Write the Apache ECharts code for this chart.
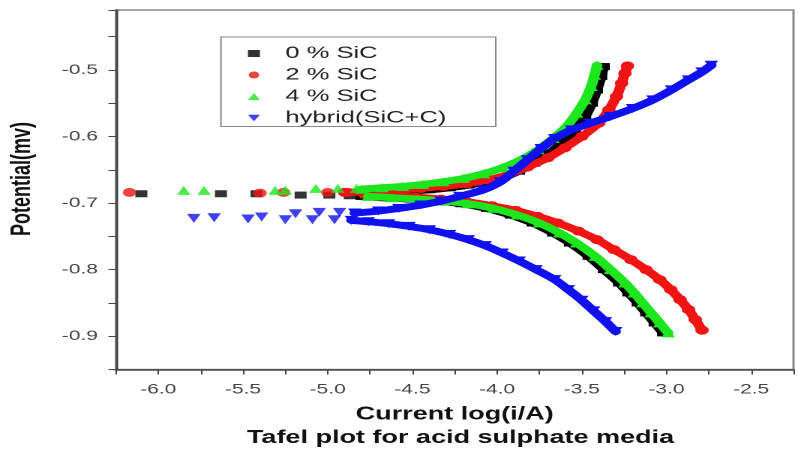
<!DOCTYPE html>
<html>
<head>
<meta charset="utf-8">
<script src="https://cdn.jsdelivr.net/npm/echarts@6/dist/echarts.min.js"></script>
<style>
html,body{margin:0;padding:0;background:#fff;overflow:hidden;}
#c{width:532px;height:450px;transform:scaleX(1.5);transform-origin:0 0;}
</style>
</head>
<body>
<div id="c"></div>
<script>
// Series names
const seriesNames = ['0 % SiC', '2 % SiC', '4 % SiC', 'hybrid(SiC+C)'];
const xTitle = 'Current log(i/A)';
const yTitle = 'Potential(mv)';
const chartTitle = 'Tafel plot for acid sulphate media';
const xTickLabels = [-6.0, -5.5, -5.0, -4.5, -4.0, -3.5, -3.0, -2.5];
const yTickLabels = [-0.9, -0.8, -0.7, -0.6, -0.5];

// [log(i/A), potential]
const black0Sparse = [[-6.10,-0.686],[-5.63,-0.686],[-5.42,-0.686],[-5.16,-0.688],[-4.99,-0.688],[-4.87,-0.689]];
const black0Anodic = [[-4.78,-0.684],[-4.65,-0.683],[-4.52,-0.682],[-4.40,-0.680],[-4.28,-0.677],[-4.17,-0.673],[-4.06,-0.668],[-3.96,-0.661],[-3.87,-0.652],[-3.78,-0.640],[-3.69,-0.625],[-3.61,-0.608],[-3.54,-0.590],[-3.48,-0.570],[-3.44,-0.550],[-3.41,-0.530],[-3.385,-0.510],[-3.37,-0.495]];
const black0Cathodic = [[-4.80,-0.690],[-4.66,-0.692],[-4.51,-0.694],[-4.36,-0.697],[-4.21,-0.701],[-4.06,-0.708],[-3.92,-0.718],[-3.79,-0.730],[-3.67,-0.745],[-3.57,-0.760],[-3.46,-0.780],[-3.37,-0.800],[-3.28,-0.820],[-3.225,-0.835],[-3.17,-0.850],[-3.12,-0.865],[-3.07,-0.880],[-3.02,-0.895]];

const red2Sparse = [[-6.17,-0.684],[-5.40,-0.685],[-5.26,-0.684],[-5.00,-0.684],[-4.88,-0.684]];
const red2Anodic = [[-4.90,-0.684],[-4.75,-0.683],[-4.60,-0.681],[-4.45,-0.678],[-4.32,-0.675],[-4.18,-0.671],[-4.05,-0.665],[-3.93,-0.657],[-3.82,-0.646],[-3.70,-0.632],[-3.60,-0.617],[-3.50,-0.600],[-3.40,-0.580],[-3.34,-0.560],[-3.295,-0.540],[-3.265,-0.520],[-3.245,-0.505],[-3.23,-0.494]];
const red2Cathodic = [[-4.78,-0.687],[-4.63,-0.689],[-4.48,-0.691],[-4.33,-0.694],[-4.18,-0.698],[-4.03,-0.704],[-3.89,-0.711],[-3.76,-0.720],[-3.64,-0.730],[-3.52,-0.742],[-3.41,-0.755],[-3.31,-0.770],[-3.21,-0.785],[-3.12,-0.800],[-3.04,-0.815],[-2.975,-0.830],[-2.92,-0.845],[-2.87,-0.860],[-2.83,-0.875],[-2.79,-0.891]];

const green4Sparse = [[-5.85,-0.681],[-5.73,-0.681],[-5.31,-0.681],[-5.25,-0.681],[-5.07,-0.678],[-4.94,-0.678],[-4.83,-0.678]];
const green4Anodic = [[-4.80,-0.679],[-4.68,-0.677],[-4.56,-0.675],[-4.44,-0.672],[-4.32,-0.668],[-4.20,-0.663],[-4.08,-0.656],[-3.97,-0.647],[-3.86,-0.635],[-3.76,-0.620],[-3.67,-0.603],[-3.59,-0.585],[-3.53,-0.565],[-3.48,-0.545],[-3.445,-0.525],[-3.425,-0.508],[-3.41,-0.493]];
const green4Cathodic = [[-4.76,-0.690],[-4.62,-0.692],[-4.47,-0.694],[-4.32,-0.697],[-4.17,-0.701],[-4.02,-0.708],[-3.88,-0.718],[-3.75,-0.730],[-3.63,-0.745],[-3.53,-0.760],[-3.42,-0.780],[-3.33,-0.800],[-3.245,-0.820],[-3.19,-0.835],[-3.14,-0.850],[-3.09,-0.865],[-3.04,-0.880],[-2.99,-0.895]];

const hybridSparse = [[-5.79,-0.723],[-5.67,-0.722],[-5.47,-0.724],[-5.39,-0.721],[-5.25,-0.725],[-5.19,-0.716],[-5.09,-0.725],[-5.05,-0.714],[-4.96,-0.725],[-4.93,-0.714]];
const hybridAnodic = [[-4.84,-0.715],[-4.70,-0.712],[-4.58,-0.708],[-4.45,-0.703],[-4.33,-0.697],[-4.22,-0.690],[-4.08,-0.680],[-3.98,-0.668],[-3.90,-0.652],[-3.82,-0.635],[-3.74,-0.618],[-3.66,-0.603],[-3.56,-0.590],[-3.45,-0.580],[-3.33,-0.570],[-3.20,-0.558],[-3.08,-0.545],[-2.97,-0.530],[-2.87,-0.515],[-2.79,-0.503],[-2.735,-0.493]];
const hybridCathodic = [[-4.86,-0.726],[-4.76,-0.728],[-4.64,-0.731],[-4.52,-0.735],[-4.40,-0.740],[-4.28,-0.747],[-4.17,-0.755],[-4.07,-0.764],[-3.97,-0.775],[-3.87,-0.787],[-3.77,-0.800],[-3.66,-0.815],[-3.58,-0.830],[-3.50,-0.846],[-3.43,-0.862],[-3.36,-0.878],[-3.30,-0.893]];

const colors = ['#000000', '#f01414', '#1ee61e', '#1010f0'];
const symbols = ['rect', 'circle', 'triangle', 'triangle'];
const symbolRot = [0, 0, 0, 180];
const symSizes = [[8,7], 9, 9, 9];

const groups = [
  [black0Sparse, black0Anodic, black0Cathodic],
  [red2Sparse, red2Anodic, red2Cathodic],
  [green4Sparse, green4Anodic, green4Cathodic],
  [hybridSparse, hybridAnodic, hybridCathodic]
];

const series = [];
groups.forEach((g, i) => {
  const common = {
    name: seriesNames[i],
    symbol: symbols[i],
    symbolRotate: symbolRot[i],
    symbolSize: symSizes[i],
    itemStyle: {color: colors[i]},
    z: 2 + i,
    animation: false
  };
  series.push(Object.assign({type: 'scatter', data: g[0]}, common));
  [g[1], g[2]].forEach(d => {
    series.push(Object.assign({
      type: 'line', data: d, smooth: 0.3, showSymbol: true,
      lineStyle: {color: colors[i], width: 7, cap: 'round', join: 'round'}
    }, common));
  });
});

const isMult = (v, step) => Math.abs(v / step - Math.round(v / step)) < 1e-6;
const font = '"Liberation Sans", Arial, sans-serif';

const chart = echarts.init(document.getElementById('c'), null, {renderer: 'canvas', devicePixelRatio: 2});
chart.setOption({
  animation: false,
  backgroundColor: '#ffffff',
  grid: {left: 77.3, top: 10, right: -13, bottom: 80.5, show: true, borderColor: '#888', borderWidth: 1.5, backgroundColor: 'transparent'},
  xAxis: {
    type: 'value', min: -6.25, max: -2.25, interval: 0.25,
    name: xTitle, nameLocation: 'middle', nameGap: 36,
    nameTextStyle: {fontFamily: font, fontWeight: 'bold', fontSize: 18, color: '#111'},
    axisLine: {show: true, onZero: false, lineStyle: {color: '#444', width: 1.5}},
    axisTick: {show: true, length: 5, lineStyle: {color: '#444', width: 1}},
    axisLabel: {fontFamily: font, fontSize: 14, color: '#444', margin: 13,
      formatter: v => (isMult(v, 0.5) && xTickLabels.some(t => Math.abs(t - v) < 1e-6)) ? v.toFixed(1) : ''},
    splitLine: {show: false}
  },
  yAxis: {
    type: 'value', min: -0.95, max: -0.41, interval: 0.05,
    axisLine: {show: true, onZero: false, lineStyle: {color: '#444', width: 1.5}},
    axisTick: {show: true, length: 5, lineStyle: {color: '#444', width: 1}},
    axisLabel: {fontFamily: font, fontSize: 14, color: '#444', margin: 12,
      formatter: v => (yTickLabels.some(t => Math.abs(t - v) < 1e-6)) ? v.toFixed(1) : ''},
    splitLine: {show: false}
  },
  legend: {
    orient: 'vertical', left: 147.3, top: 37,
    padding: [8, 33, 0, 18], itemGap: 4.5, itemWidth: 8, itemHeight: 7,
    borderColor: '#888', borderWidth: 1, backgroundColor: '#fff',
    selectedMode: false,
    data: [
      {name: seriesNames[0], icon: 'rect'},
      {name: seriesNames[1], icon: 'circle'},
      {name: seriesNames[2], icon: 'triangle'},
      {name: seriesNames[3], icon: 'path://M0,0L10,0L5,8Z'}
    ],
    formatter: n => '{g|}' + n,
    textStyle: {fontFamily: font, fontSize: 17, color: '#222', lineHeight: 17,
      rich: {g: {width: 12, lineHeight: 17}}}
  },
  graphic: [
    {type: 'text', x: 15, y: 179, rotation: Math.PI / 2,
      style: {text: yTitle, align: 'center', verticalAlign: 'middle', font: 'bold 18px ' + font, fill: '#111'}},
    {type: 'text', x: 307, y: 438,
      style: {text: chartTitle, align: 'center', verticalAlign: 'middle', font: 'bold 18px ' + font, fill: '#111'}}
  ],
  series: series
});
</script>
</body>
</html>
